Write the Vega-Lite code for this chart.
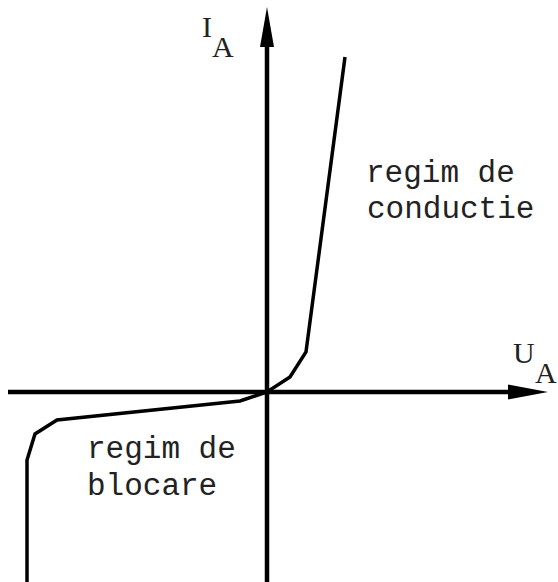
{
  "$schema": "https://vega.github.io/schema/vega-lite/v6.json",
  "width": 558,
  "height": 582,
  "autosize": {"type": "none"},
  "padding": 0,
  "background": "white",
  "config": {"view": {"stroke": null}},
  "datasets": {
    "axes": [
      {"axis": "U", "x": -259, "y": 0},
      {"axis": "U", "x": 250, "y": 0},
      {"axis": "I", "x": 0, "y": -190},
      {"axis": "I", "x": 0, "y": 350}
    ],
    "curve": [
      {"order": 1, "u": -240, "i": -190},
      {"order": 2, "u": -240, "i": -68},
      {"order": 3, "u": -232, "i": -42},
      {"order": 4, "u": -210, "i": -28},
      {"order": 5, "u": -27, "i": -9},
      {"order": 6, "u": 0, "i": 0},
      {"order": 7, "u": 23, "i": 15},
      {"order": 8, "u": 39, "i": 40},
      {"order": 9, "u": 78, "i": 335}
    ],
    "symbols": [
      {"name": "I", "x": -65, "y": 355},
      {"name": "A", "x": -55, "y": 335},
      {"name": "U", "x": 246, "y": 29},
      {"name": "A", "x": 268, "y": 9}
    ],
    "notes": [
      {"text": "regim de", "x": 99, "y": 210},
      {"text": "conductie", "x": 100, "y": 174},
      {"text": "regim de", "x": -180, "y": -66},
      {"text": "blocare", "x": -180, "y": -103}
    ]
  },
  "layer": [
    {
      "data": {"name": "axes"},
      "mark": {"type": "line", "color": "black", "strokeWidth": 4.5, "strokeCap": "butt", "clip": false},
      "encoding": {
        "x": {"field": "x", "type": "quantitative", "scale": {"domain": [-267, 291], "nice": false, "zero": false}, "axis": null},
        "y": {"field": "y", "type": "quantitative", "scale": {"domain": [-190, 392], "nice": false, "zero": false}, "axis": null},
        "detail": {"field": "axis"}
      }
    },
    {
      "data": {"values": [{"x": 0, "y": 365}]},
      "mark": {"type": "point", "filled": true, "color": "black", "opacity": 1, "shape": "M0,-1L0.35,1L-0.35,1Z", "size": 1600, "clip": false},
      "encoding": {
        "x": {"field": "x", "type": "quantitative", "axis": null},
        "y": {"field": "y", "type": "quantitative", "axis": null}
      }
    },
    {
      "data": {"values": [{"x": 261, "y": 0}]},
      "mark": {"type": "point", "filled": true, "color": "black", "opacity": 1, "shape": "M1,0L-1,0.37L-1,-0.37Z", "size": 1600, "clip": false},
      "encoding": {
        "x": {"field": "x", "type": "quantitative", "axis": null},
        "y": {"field": "y", "type": "quantitative", "axis": null}
      }
    },
    {
      "data": {"name": "curve"},
      "mark": {"type": "line", "color": "black", "strokeWidth": 3.5, "strokeJoin": "miter", "clip": false},
      "encoding": {
        "x": {"field": "u", "type": "quantitative", "axis": null},
        "y": {"field": "i", "type": "quantitative", "axis": null},
        "order": {"field": "order"}
      }
    },
    {
      "data": {"name": "symbols"},
      "mark": {"type": "text", "font": "Liberation Serif", "fontSize": 30, "align": "left", "baseline": "alphabetic", "color": "#222"},
      "encoding": {
        "x": {"field": "x", "type": "quantitative", "axis": null},
        "y": {"field": "y", "type": "quantitative", "axis": null},
        "text": {"field": "name"}
      }
    },
    {
      "data": {"name": "notes"},
      "mark": {"type": "text", "font": "Liberation Mono", "fontSize": 31, "align": "left", "baseline": "alphabetic", "color": "#222"},
      "encoding": {
        "x": {"field": "x", "type": "quantitative", "axis": null},
        "y": {"field": "y", "type": "quantitative", "axis": null},
        "text": {"field": "text"}
      }
    }
  ]
}
